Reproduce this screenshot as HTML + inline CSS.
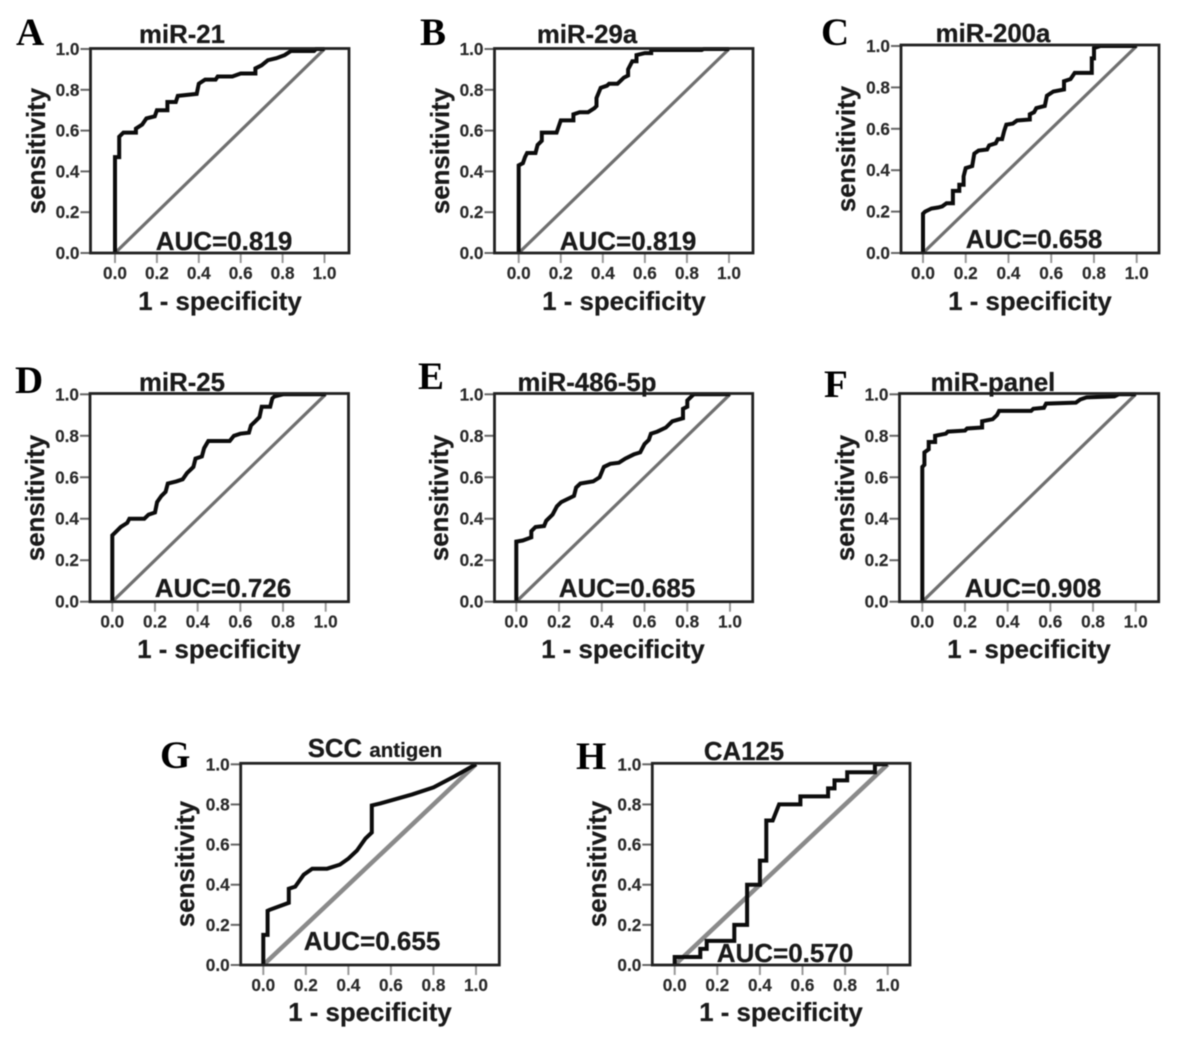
<!DOCTYPE html>
<html lang="en">
<head>
<meta charset="utf-8">
<title>ROC curves</title>
<style>
html,body{margin:0;padding:0;background:#fff;width:1183px;height:1045px;overflow:hidden}
#figure{display:block;filter:blur(0.45px)}
text{font-family:"Liberation Sans",sans-serif;font-weight:bold;fill:#1a1a1a;stroke:#1a1a1a;stroke-width:.25px}
.letter{font-family:"Liberation Serif",serif;font-size:39px;fill:#000;stroke:none}
.title{font-size:25.8px;text-anchor:middle}
.small{font-size:20.5px}
.auc{font-size:26px;text-anchor:middle}
.xlabel,.ylabel{font-size:25.8px;text-anchor:middle}
.tick{font-size:17.2px;fill:#2a2a2a;stroke:#2a2a2a;stroke-width:.15px}
</style>
</head>
<body>
<svg id="figure" width="1183" height="1045" viewBox="0 0 1183 1045" xmlns="http://www.w3.org/2000/svg">
  <g id="panel-a">
    <text class="letter" x="16" y="45">A</text>
    <text class="title" x="182" y="43">miR-21</text>
    <text class="auc" x="224" y="250">AUC=0.819</text>
    <text class="xlabel" x="220" y="310">1 - specificity</text>
    <text class="ylabel" transform="translate(45,151) rotate(-90)">sensitivity</text>
  </g>
  <g id="panel-b">
    <text class="letter" x="420" y="45">B</text>
    <text class="title" x="587" y="43">miR-29a</text>
    <text class="auc" x="628" y="250">AUC=0.819</text>
    <text class="xlabel" x="624" y="310">1 - specificity</text>
    <text class="ylabel" transform="translate(449,151) rotate(-90)">sensitivity</text>
  </g>
  <g id="panel-c">
    <text class="letter" x="821" y="45">C</text>
    <text class="title" x="993" y="42">miR-200a</text>
    <text class="auc" x="1034" y="248">AUC=0.658</text>
    <text class="xlabel" x="1030" y="310">1 - specificity</text>
    <text class="ylabel" transform="translate(855,149) rotate(-90)">sensitivity</text>
  </g>
  <g id="panel-d">
    <text class="letter" x="15" y="393">D</text>
    <text class="title" x="182" y="391">miR-25</text>
    <text class="auc" x="223" y="597">AUC=0.726</text>
    <text class="xlabel" x="219" y="658">1 - specificity</text>
    <text class="ylabel" transform="translate(44,498) rotate(-90)">sensitivity</text>
  </g>
  <g id="panel-e">
    <text class="letter" x="418" y="389">E</text>
    <text class="title" x="587" y="391">miR-486-5p</text>
    <text class="auc" x="627" y="597">AUC=0.685</text>
    <text class="xlabel" x="623" y="658">1 - specificity</text>
    <text class="ylabel" transform="translate(448,498) rotate(-90)">sensitivity</text>
  </g>
  <g id="panel-f">
    <text class="letter" x="824" y="397">F</text>
    <text class="title" x="993" y="391">miR-panel</text>
    <text class="auc" x="1033" y="597">AUC=0.908</text>
    <text class="xlabel" x="1029" y="658">1 - specificity</text>
    <text class="ylabel" transform="translate(854,498) rotate(-90)">sensitivity</text>
  </g>
  <g id="panel-g">
    <text class="letter" x="160" y="768">G</text>
    <text class="title" x="375" y="757">SCC <tspan class="small">antigen</tspan></text>
    <text class="auc" x="372" y="950">AUC=0.655</text>
    <text class="xlabel" x="370" y="1021">1 - specificity</text>
    <text class="ylabel" transform="translate(194,864) rotate(-90)">sensitivity</text>
  </g>
  <g id="panel-h">
    <text class="letter" x="576" y="769">H</text>
    <text class="title" x="744" y="760">CA125</text>
    <text class="auc" x="785" y="962">AUC=0.570</text>
    <text class="xlabel" x="781" y="1021">1 - specificity</text>
    <text class="ylabel" transform="translate(606,864) rotate(-90)">sensitivity</text>
  </g>
</svg>
<script>
const tickValues = [0, 0.2, 0.4, 0.6, 0.8, 1];
const tickLabels = ['0.0', '0.2', '0.4', '0.6', '0.8', '1.0'];

const fprA = [0,0,.02,.02,.04,.10,.10,.13,.15,.19,.20,.25,.25,.29,.30,.39,.40,.43,.48,.49,.56,.60,.67,.67,.70,.73,.77,.81,.84,.95,.96,1];
const tprA = [0,.47,.47,.57,.59,.59,.61,.63,.66,.67,.70,.70,.74,.74,.77,.78,.83,.85,.85,.865,.865,.88,.88,.905,.92,.945,.955,.97,.99,.99,1,1];

const fprB = [0,0,.02,.03,.04,.08,.09,.11,.11,.18,.19,.20,.26,.26,.29,.33,.36,.37,.37,.39,.42,.43,.47,.50,.52,.52,.54,.56,.56,.60,.63,.63,.87,.88,1];
const tprB = [0,.43,.44,.47,.49,.49,.53,.55,.59,.59,.62,.65,.65,.68,.69,.69,.71,.72,.76,.81,.82,.83,.83,.86,.87,.90,.94,.94,.97,.98,.98,.995,.995,1,1];

const fprC = [0,0,.01,.04,.07,.09,.11,.14,.14,.17,.17,.19,.19,.20,.23,.24,.26,.30,.31,.34,.35,.37,.38,.39,.42,.44,.50,.50,.52,.53,.57,.58,.61,.66,.66,.69,.71,.79,.79,.80,.80,.83,1];
const tprC = [0,.19,.20,.215,.22,.225,.24,.24,.30,.30,.33,.33,.37,.41,.42,.48,.495,.50,.52,.53,.55,.55,.59,.62,.625,.64,.645,.67,.68,.70,.71,.76,.78,.79,.83,.84,.87,.87,.94,.94,.99,1,1];

const fprD = [0,0,.01,.04,.07,.08,.15,.17,.20,.21,.23,.25,.26,.30,.33,.35,.38,.39,.42,.43,.45,.55,.57,.60,.64,.65,.67,.69,.70,.74,.75,.76,.80,1];
const tprD = [0,.32,.33,.36,.38,.40,.40,.42,.43,.48,.51,.53,.57,.58,.59,.62,.65,.69,.70,.74,.775,.775,.80,.81,.815,.85,.87,.89,.94,.94,.98,.99,1,1];

const fprE = [0,0,.03,.07,.07,.09,.13,.14,.17,.19,.21,.25,.27,.28,.30,.36,.39,.41,.44,.48,.51,.55,.58,.60,.62,.63,.66,.70,.73,.78,.78,.80,.80,.83,1];
const tprE = [0,.29,.295,.31,.34,.36,.365,.39,.42,.46,.48,.50,.51,.55,.57,.58,.60,.65,.665,.67,.69,.71,.72,.76,.78,.81,.82,.84,.87,.885,.93,.94,.97,1,1];

const fprF = [0,0,.01,.01,.03,.03,.06,.06,.11,.12,.20,.21,.28,.28,.33,.35,.36,.51,.52,.57,.58,.72,.74,.77,.90,.92,1];
const tprF = [0,.65,.66,.72,.735,.77,.77,.80,.81,.82,.825,.835,.84,.87,.88,.90,.92,.92,.93,.935,.955,.96,.975,.985,.99,1,1];

const fprG = [0,0,.02,.02,.03,.12,.12,.15,.19,.23,.30,.36,.40,.44,.48,.51,.51,.55,.70,.80,.90,1];
const tprG = [0,.15,.15,.27,.275,.31,.38,.39,.45,.48,.48,.50,.53,.57,.63,.66,.795,.805,.85,.885,.94,1];

const fprH = [0,0,.12,.12,.15,.15,.28,.28,.34,.34,.40,.40,.43,.43,.46,.49,.59,.59,.72,.72,.75,.75,.81,.81,.94,.94,1];
const tprH = [0,.04,.04,.08,.08,.12,.12,.20,.20,.40,.40,.52,.52,.72,.72,.80,.80,.84,.84,.88,.88,.92,.92,.96,.96,1,1];

const panelA = {id:'a', fpr:fprA, tpr:tprA, left:90.5, right:349, top:48.5, bottom:253, x0:115, x1:324.5, yTop:49, hatch:false};
const panelB = {id:'b', fpr:fprB, tpr:tprB, left:494.5, right:753, top:48.5, bottom:253, x0:518.7, x1:729, yTop:49, hatch:false};
const panelC = {id:'c', fpr:fprC, tpr:tprC, left:901, right:1159, top:45, bottom:253, x0:923, x1:1136.7, yTop:46, hatch:false};
const panelD = {id:'d', fpr:fprD, tpr:tprD, left:90, right:348.5, top:393.5, bottom:601.7, x0:112.3, x1:325.7, yTop:394.3, hatch:false};
const panelE = {id:'e', fpr:fprE, tpr:tprE, left:494.5, right:752.7, top:393.5, bottom:601.7, x0:516.3, x1:730, yTop:394.3, hatch:false};
const panelF = {id:'f', fpr:fprF, tpr:tprF, left:899.5, right:1158.7, top:393.5, bottom:601.7, x0:922.3, x1:1135.7, yTop:394.3, hatch:false};
const panelG = {id:'g', fpr:fprG, tpr:tprG, left:240.7, right:499.3, top:763.3, bottom:965, x0:263.3, x1:476, yTop:764.3, hatch:true};
const panelH = {id:'h', fpr:fprH, tpr:tprH, left:652.3, right:910, top:763.3, bottom:965, x0:674.7, x1:887.7, yTop:764.3, hatch:true};
const panels = [panelA, panelB, panelC, panelD, panelE, panelF, panelG, panelH];

const SVG_NS = 'http://www.w3.org/2000/svg';

function make(tag, attrs, parent) {
  const el = document.createElementNS(SVG_NS, tag);
  for (const k in attrs) el.setAttribute(k, attrs[k]);
  parent.appendChild(el);
  return el;
}

function drawPanel(p) {
  const host = document.getElementById('panel-' + p.id);
  const xScale = v => p.x0 + v * (p.x1 - p.x0);
  const yScale = v => p.bottom - v * (p.bottom - p.yTop);

  tickValues.forEach((v, i) => {
    const xTick = make('line', {x1: xScale(v), x2: xScale(v), y1: p.bottom, y2: p.bottom + 10, stroke: '#999', 'stroke-width': 2}, host);
    
    
    const xLabel = make('text', {class: 'tick', x: xScale(v), y: p.bottom + 26, 'text-anchor': 'middle'}, host);
    
    
    xLabel.textContent = tickLabels[i];

    const yTick = make('line', {x1: p.left - 10, x2: p.left, y1: yScale(v), y2: yScale(v), stroke: '#666', 'stroke-width': 2}, host);
    
    
    const yLabel = make('text', {class: 'tick', x: p.left - 11, y: yScale(v) + 6, 'text-anchor': 'end'}, host);
    
    
    yLabel.textContent = tickLabels[i];
  });

  const diagonal = make('line', {
    x1: xScale(0), y1: yScale(0), x2: xScale(1), y2: yScale(1),
    stroke: p.hatch ? '#8a8a8a' : '#6f6f6f', 'stroke-width': p.hatch ? 4.5 : 3.2
  }, host);
  
  

  const pts = p.fpr.map((f, i) => xScale(f).toFixed(1) + ',' + yScale(p.tpr[i]).toFixed(1)).join(' ');
  const curve = make('polyline', {points: pts, fill: 'none', stroke: '#0c0c0c', 'stroke-width': 4, 'stroke-linejoin': 'miter'}, host);
  
  

  const frame = make('rect', {x: p.left, y: p.top, width: p.right - p.left, height: p.bottom - p.top, fill: 'none', stroke: '#222', 'stroke-width': 2.8}, host);
  
  

  const texts = Array.from(host.querySelectorAll('.title,.auc,.letter,.xlabel,.ylabel'));
  texts.forEach(t => host.appendChild(t));
}

panels.forEach(drawPanel);
</script>
</body>
</html>
